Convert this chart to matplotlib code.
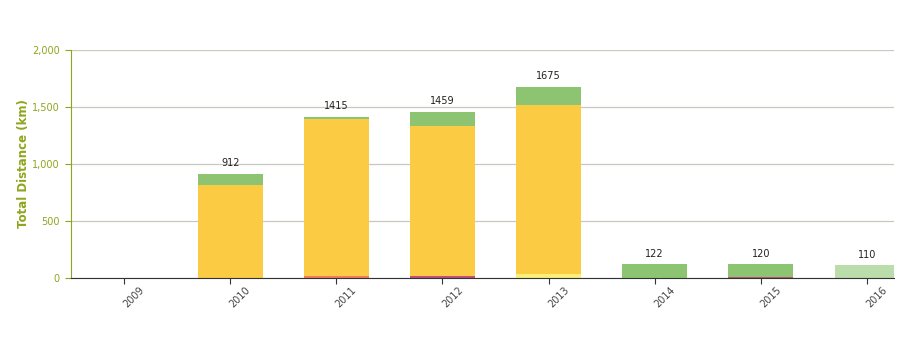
import numpy as np
import matplotlib
matplotlib.use('Agg')
import matplotlib.pyplot as plt
import matplotlib.transforms as mtransforms

years = ['2009', '2010', '2011', '2012', '2013', '2014', '2015', '2016']

# stacked segments, bottom to top
salmon  = [0, 0, 18, 0, 0, 0, 0, 0]
plum    = [0, 0, 0, 18, 0, 0, 5, 0]
lemon   = [0, 0, 0, 0, 38, 0, 0, 0]
yellow  = [0, 816, 1377, 1315, 1480, 0, 0, 0]
green   = [0, 96, 20, 126, 157, 122, 115, 0]
pale    = [0, 0, 0, 0, 0, 0, 0, 110]
totals  = [None, 912, 1415, 1459, 1675, 122, 120, 110]

series = [
    (salmon, '#F07E5E'),
    (plum,   '#C0507A'),
    (lemon,  '#F8F07A'),
    (yellow, '#FACB43'),
    (green,  '#8DC472'),
    (pale,   '#BBDCAB'),
]

olive = '#8DA61C'

fig = plt.figure(figsize=(9.04, 3.37), dpi=100)
ax = fig.add_axes([0.0785, 0.175, 0.9105, 0.677])

x = np.arange(len(years))
bottom = np.zeros(len(years))
for vals, col in series:
    vals = np.array(vals, dtype=float)
    ax.bar(x, vals, width=0.61, bottom=bottom, color=col, zorder=2, linewidth=0)
    bottom += vals

for xi, t in zip(x, totals):
    if t is None:
        continue
    ax.annotate(str(t), (xi, t), xytext=(0, 4), textcoords='offset points',
                ha='center', va='bottom', fontsize=7, color='#222222')

ax.set_xlim(-0.5, 7.255)
ax.set_ylim(0, 2000)
ax.set_yticks([0, 500, 1000, 1500, 2000])
ax.set_yticklabels(['0', '500', '1,000', '1,500', '2,000'])
ax.set_xticks(x)
ax.set_xticklabels([])

# rotated year labels, sitting right of and below each tick
shift = mtransforms.ScaledTranslation(10 / 100, -19 / 100, fig.dpi_scale_trans)
for xi, yr in zip(x, years):
    ax.text(xi, 0, yr, transform=ax.get_xaxis_transform() + shift,
            rotation=45, ha='center', va='center', rotation_mode='anchor',
            fontsize=7, color='#444444', clip_on=False)

ax.grid(axis='y', color='#C8C8C0', linewidth=0.9, zorder=0)
for s in ['top', 'right']:
    ax.spines[s].set_visible(False)
ax.spines['left'].set_color(olive)
ax.spines['bottom'].set_color('#333333')
ax.spines['bottom'].set_zorder(3)

ax.tick_params(axis='y', colors=olive, labelsize=7, length=4, width=0.8, pad=4)
ax.tick_params(axis='x', colors='#333333', length=4, width=0.8)

ax.set_ylabel('Total Distance (km)', color=olive, fontsize=8.5, fontweight='bold')
ax.yaxis.set_label_coords(-0.050, 0.5)

fig.savefig('out.png', dpi=100)
